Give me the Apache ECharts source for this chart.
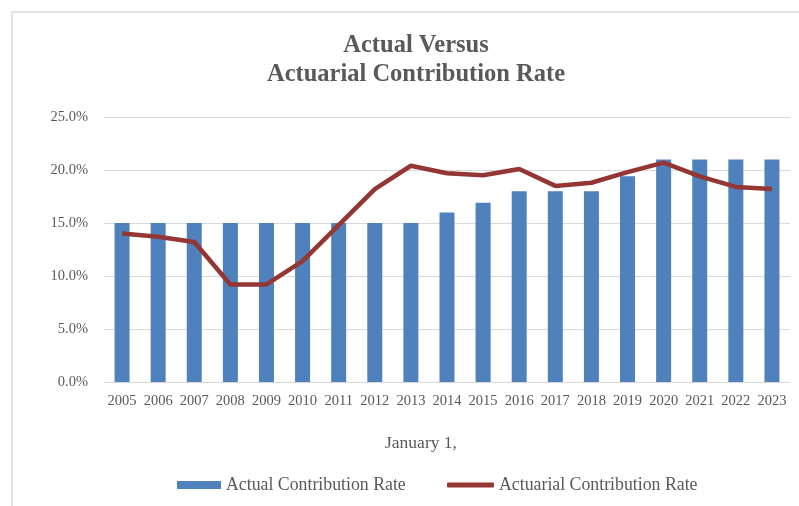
<!DOCTYPE html>
<html>
<head>
<meta charset="utf-8">
<title>Actual Versus Actuarial Contribution Rate</title>
<script src="https://cdn.jsdelivr.net/npm/echarts@6/dist/echarts.min.js"></script>
<style>
  html, body { margin: 0; padding: 0; background: #fff; }
  #chart { width: 799px; height: 506px; }
</style>
</head>
<body>
<div id="chart"></div>
<script>
// years on the x axis
const years = ['2005', '2006', '2007', '2008', '2009', '2010', '2011', '2012', '2013', '2014',
  '2015', '2016', '2017', '2018', '2019', '2020', '2021', '2022', '2023'];
// actual rate (bars), percent
const actualRate = [15.0, 15.0, 15.0, 15.0, 15.0, 15.0, 15.0, 15.0, 15.0, 16.0,
  16.9, 18.0, 18.0, 18.0, 19.4, 21.0, 21.0, 21.0, 21.0];
// actuarial rate (line), percent
const actuarialRate = [14.0, 13.7, 13.2, 9.2, 9.2, 11.4, 14.8, 18.2, 20.4, 19.7,
  19.5, 20.1, 18.5, 18.8, 19.8, 20.7, 19.4, 18.4, 18.2];
const yTicks = { min: 0, max: 25, interval: 5 };

const font = '"Liberation Serif", "Times New Roman", serif';
const grey = '#595959';

const chart = echarts.init(document.getElementById('chart'));
chart.setOption({
  animation: false,
  textStyle: { fontFamily: font },
  title: {
    text: 'Actual Versus\nActuarial Contribution Rate',
    left: 411,
    top: 26,
    textAlign: 'center',
    textStyle: {
      fontFamily: font,
      fontSize: 24.5,
      fontWeight: 'bold',
      color: grey,
      lineHeight: 29
    }
  },
  graphic: [{
    type: 'rect',
    shape: { x: 12, y: 12, width: 800, height: 500 },
    style: { fill: 'none', stroke: '#d9d9d9', lineWidth: 1.5 },
    silent: true
  }],
  legend: [{
    data: ['Actual Contribution Rate'],
    left: 172,
    top: 471,
    icon: 'rect',
    itemWidth: 44,
    itemHeight: 8,
    textStyle: { fontFamily: font, fontSize: 17.8, color: grey }
  }, {
    data: ['Actuarial Contribution Rate'],
    left: 442,
    top: 471,
    icon: 'roundRect',
    itemWidth: 47,
    itemHeight: 5,
    textStyle: { fontFamily: font, fontSize: 17.8, color: grey }
  }],
  grid: { left: 104, right: 9, top: 117, bottom: 124 },
  xAxis: {
    type: 'category',
    data: years,
    name: 'January 1,',
    nameLocation: 'middle',
    nameGap: 52,
    nameTextStyle: { fontFamily: font, fontSize: 17.5, color: grey, padding: [0, 52, 0, 0] },
    axisLine: { lineStyle: { color: '#d9d9d9', width: 1 } },
    axisTick: { show: false },
    axisLabel: { fontFamily: font, fontSize: 14.5, color: grey, margin: 12, interval: 0 }
  },
  yAxis: {
    type: 'value',
    min: yTicks.min,
    max: yTicks.max,
    interval: yTicks.interval,
    axisLine: { show: false },
    axisTick: { show: false },
    splitLine: { lineStyle: { color: '#d9d9d9', width: 1 } },
    axisLabel: {
      fontFamily: font,
      fontSize: 14.5,
      color: grey,
      margin: 16,
      formatter: v => v.toFixed(1) + '%'
    }
  },
  series: [{
    name: 'Actual Contribution Rate',
    type: 'bar',
    data: actualRate,
    barWidth: 15,
    itemStyle: { color: '#4f81bd' }
  }, {
    name: 'Actuarial Contribution Rate',
    type: 'line',
    data: actuarialRate,
    symbol: 'none',
    lineStyle: { color: '#943634', width: 4.5 },
    itemStyle: { color: '#943634' }
  }]
});
</script>
</body>
</html>
